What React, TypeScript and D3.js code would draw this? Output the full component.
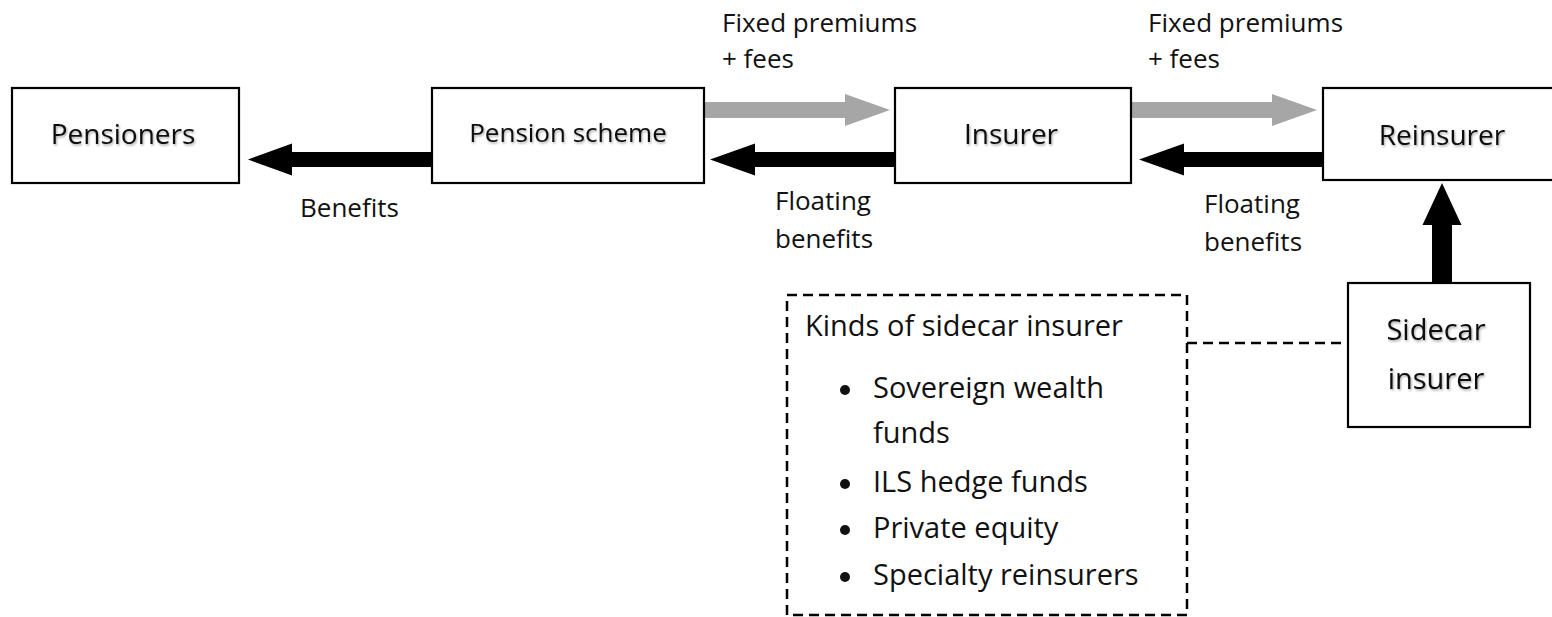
import React from "react";
import * as d3 from "d3";

// ---- content ----
const NODES = ["Pensioners", "Pension scheme", "Insurer", "Reinsurer"];
const SIDECAR_LINES = ["Sidecar", "insurer"];
const PREMIUM_LINES = ["Fixed premiums", "+ fees"];
const BENEFIT_LINES = ["Benefits"];
const FLOATING_LINES = ["Floating", "benefits"];
const KINDS_TITLE = "Kinds of sidecar insurer";
const KINDS = [["Sovereign wealth", "funds"], ["ILS hedge funds"], ["Private equity"], ["Specialty reinsurers"]];

// ---- layout ----
const W = 1552;
const H = 617;
const FONT = "'Open Sans', 'Noto Sans', sans-serif";
const BOX_LAYOUT = [
  { x0: 12, x1: 239, y0: 88, y1: 183, tx: 123, ty: 144, fs: 28 },
  { x0: 432, x1: 704, y0: 88, y1: 183, tx: 568, ty: 142, fs: 26 },
  { x0: 895, x1: 1131, y0: 88, y1: 183, tx: 1011, ty: 144, fs: 28 },
  { x0: 1323, x1: 1562, y0: 88, y1: 180, tx: 1442, ty: 145, fs: 28 },
];
const SIDECAR_BOX = { x0: 1348, x1: 1530, y0: 283, y1: 427, tx: 1436, ty: [340, 389], fs: 29 };
const DASH_BOX = { x0: 787, x1: 1187, y0: 295, y1: 615 };

const line = d3.line<[number, number]>();

function hArrow(x0: number, x1: number, cy: number, s: number, h: number, L: number) {
  const d = Math.sign(x1 - x0);
  const xb = x1 - d * L;
  const pts: [number, number][] = [
    [x0, cy - s], [xb, cy - s], [xb, cy - h], [x1, cy], [xb, cy + h], [xb, cy + s], [x0, cy + s],
  ];
  return line(pts) + "Z";
}
function vArrow(y0: number, y1: number, cx: number, s: number, h: number, L: number) {
  const d = Math.sign(y1 - y0);
  const yb = y1 - d * L;
  const pts: [number, number][] = [
    [cx - s, y0], [cx - s, yb], [cx - h, yb], [cx, y1], [cx + h, yb], [cx + s, yb], [cx + s, y0],
  ];
  return line(pts) + "Z";
}

const GRAY = "#a6a6a6";

export default function App() {
  const b = BOX_LAYOUT;
  const grayY = 110;
  const blackY = 159.5;
  const labelStyle = { fontFamily: FONT, fontSize: 26, fill: "#111" } as const;
  const listStyle = { fontFamily: FONT, fontSize: 29, fill: "#111" } as const;
  const listBaselines = [[398, 443], [492], [538], [585]];

  return (
    <svg
      width={W}
      height={H}
      viewBox={`0 0 ${W} ${H}`}
      style={{ position: "absolute", left: 0, top: 0, background: "#fff" }}
    >
      <defs>
        <filter id="shadow" x="-10%" y="-30%" width="120%" height="160%">
          <feDropShadow dx="1" dy="1.5" stdDeviation="1" floodColor="#000" floodOpacity="0.35" />
        </filter>
      </defs>
      <rect x={0} y={0} width={W} height={H} fill="#fff" />

      {/* arrows */}
      <path d={hArrow(b[1].x0, 248, blackY, 7.5, 16, 44)} fill="#000" />
      <path d={hArrow(b[2].x0, 710, blackY, 7.5, 16, 45)} fill="#000" />
      <path d={hArrow(b[3].x0, 1139, blackY, 7.5, 16, 45)} fill="#000" />
      <path d={hArrow(b[1].x1, 890, grayY, 8, 16, 45)} fill={GRAY} />
      <path d={hArrow(b[2].x1, 1317, grayY, 8, 16, 45)} fill={GRAY} />
      <path d={vArrow(SIDECAR_BOX.y0, 183, 1442, 10, 19.5, 42)} fill="#000" />

      {/* main boxes */}
      {NODES.map((name, i) => (
        <g key={name}>
          <rect
            x={b[i].x0}
            y={b[i].y0}
            width={b[i].x1 - b[i].x0}
            height={b[i].y1 - b[i].y0}
            fill="#fff"
            stroke="#000"
            strokeWidth={2.2}
          />
          <text
            x={b[i].tx}
            y={b[i].ty}
            textAnchor="middle"
            filter="url(#shadow)"
            style={{ fontFamily: FONT, fontSize: b[i].fs, fill: "#111" }}
          >
            {name}
          </text>
        </g>
      ))}

      {/* sidecar box */}
      <rect
        x={SIDECAR_BOX.x0}
        y={SIDECAR_BOX.y0}
        width={SIDECAR_BOX.x1 - SIDECAR_BOX.x0}
        height={SIDECAR_BOX.y1 - SIDECAR_BOX.y0}
        fill="#fff"
        stroke="#000"
        strokeWidth={2.2}
      />
      {SIDECAR_LINES.map((t, i) => (
        <text
          key={t}
          x={SIDECAR_BOX.tx}
          y={SIDECAR_BOX.ty[i]}
          textAnchor="middle"
          filter="url(#shadow)"
          style={{ fontFamily: FONT, fontSize: SIDECAR_BOX.fs, fill: "#111" }}
        >
          {t}
        </text>
      ))}

      {/* flow labels */}
      {[722, 1148].map((x) =>
        PREMIUM_LINES.map((t, i) => (
          <text key={x + t} x={x} y={[32, 68][i]} style={labelStyle}>
            {t}
          </text>
        ))
      )}
      {BENEFIT_LINES.map((t) => (
        <text key={t} x={300} y={217} style={labelStyle}>
          {t}
        </text>
      ))}
      {[
        { x: 775, ys: [210, 248] },
        { x: 1204, ys: [213, 251] },
      ].map((p) =>
        FLOATING_LINES.map((t, i) => (
          <text key={p.x + t} x={p.x} y={p.ys[i]} style={labelStyle}>
            {t}
          </text>
        ))
      )}

      {/* dashed box + connector */}
      <rect
        x={DASH_BOX.x0}
        y={DASH_BOX.y0}
        width={DASH_BOX.x1 - DASH_BOX.x0}
        height={DASH_BOX.y1 - DASH_BOX.y0}
        fill="none"
        stroke="#000"
        strokeWidth={2.5}
        strokeDasharray="10 6"
      />
      <line
        x1={DASH_BOX.x1}
        x2={SIDECAR_BOX.x0}
        y1={343}
        y2={343}
        stroke="#000"
        strokeWidth={2.5}
        strokeDasharray="10 6"
      />
      <text x={805} y={336} style={listStyle}>
        {KINDS_TITLE}
      </text>
      {KINDS.map((lines, i) => (
        <g key={lines[0]}>
          <circle cx={845} cy={listBaselines[i][0] - 8} r={5} fill="#111" />
          {lines.map((t, j) => (
            <text key={t} x={873} y={listBaselines[i][j]} style={listStyle}>
              {t}
            </text>
          ))}
        </g>
      ))}
    </svg>
  );
}
